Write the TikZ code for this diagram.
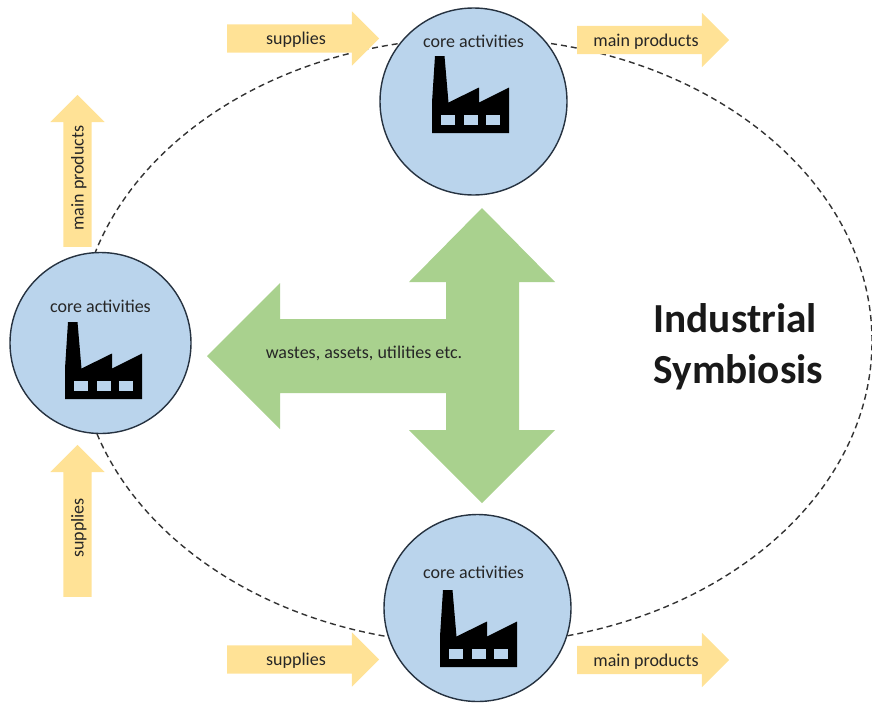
\documentclass[tikz,border=0pt]{standalone}
\usepackage{fontspec}
\setmainfont{Carlito}
\usetikzlibrary{shapes,arrows,positioning,calc,arrows.meta}
\definecolor{plantblue}{RGB}{186,212,236}
\definecolor{flowgreen}{RGB}{169,209,142}
\definecolor{feedyellow}{RGB}{255,226,150}
\definecolor{rimgrey}{RGB}{38,50,64}
\begin{document}
\begin{tikzpicture}[x=1pt, y=-1pt,
        plant/.style={draw=rimgrey, line width=1.4pt, fill=plantblue, circle, minimum size=187pt, inner sep=0pt},
        plantlabel/.style={font=\fontsize{18}{22}\selectfont, text=black!85},
        feed/.style={single arrow, fill=feedyellow, minimum height=152pt, minimum width=54pt,
            single arrow head extend=13pt, single arrow tip angle=90, inner xsep=0pt, inner ysep=7pt,
            text height=13pt, text depth=1pt, font=\fontsize{18}{22}\selectfont, text=black!85},
        factory/.pic={
            \fill[black] (-38.5,-45.5) -- (-29,-45.5) -- (-25,1) -- (5.5,-14) -- (5.5,1) -- (35.5,-14)
                -- (35.5,31.5) -- (-41.5,31.5) -- (-41.5,1) -- cycle;
            \foreach \wx in {-32.5,-10,12.5}
                \fill[plantblue] (\wx,13.5) rectangle ++(14,10);
        }
    ]
        \useasboundingbox (0,0) rectangle (872,702);
        \clip (0,0) rectangle (872,702);

        % ring of the park
        \node [draw=black!80, dash pattern=on 6pt off 4pt, line width=1.4pt, ellipse, minimum width=794pt, minimum height=606pt, inner sep=0pt] (ring) at (475,341) {};

        % plants
        \node [plant] (top) at (473.5,101.5) {};
        \node [plant, minimum size=181pt] (left) at (100.5,343) {};
        \node [plant] (bot) at (477.5,608) {};
        \pic at (473.5,101.5) {factory};
        \pic at (106.5,367.5) {factory};
        \pic at (481.5,635.5) {factory};
        \node [plantlabel] (toplab) at (473.5,41) {core activities};
        \node [plantlabel] (leftlab) at (100.5,306) {core activities};
        \node [plantlabel] (botlab) at (473.5,572) {core activities};

        % exchange arrow
        \fill[flowgreen] (207,356) -- (280,283) -- (280,319) -- (446,319) -- (446,282) -- (409,282) -- (482,208)
            -- (555,282) -- (519,282) -- (519,430) -- (555,430) -- (482,503) -- (409,430) -- (446,430)
            -- (446,393) -- (280,393) -- (280,429) -- cycle;
        \node [plantlabel] (waste) at (364,353) {wastes, assets, utilities etc.};

        % flows
        \node [feed] (suptop) at (296,38.5) {supplies};
        \node [feed] (maintop) at (646,40) {main products};
        \node [feed] (supbot) at (296,659.5) {supplies};
        \node [feed] (mainbot) at (646,660) {main products};
        \node [feed, rotate=90] (mainleft) at (77.5,178) {main products};
        \node [feed, rotate=90] (supleft) at (77.5,528) {supplies};

        \node [font=\fontsize{41.3}{51}\selectfont\bfseries, align=left, anchor=west, text=black!90] (title) at (650,347) {Industrial\\Symbiosis};
    \end{tikzpicture}
\end{document}
